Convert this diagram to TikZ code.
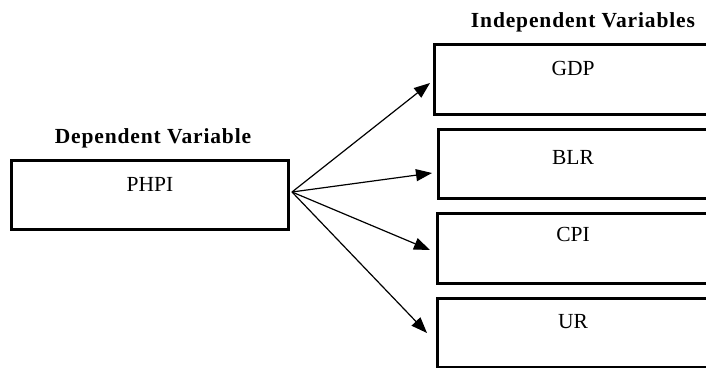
\documentclass[tikz,border=0pt]{standalone}
\usepackage{fontspec}
\setmainfont{Liberation Serif}
\newfontfamily\headfont{Liberation Serif}[LetterSpace=4]
\usetikzlibrary{arrows.meta}
\begin{document}
\begin{tikzpicture}[x=1pt,y=-1pt,
  box/.style={draw=black, line width=2.6pt, fill=white, rectangle, inner sep=0pt, anchor=north west},
  lbl/.style={inner sep=0pt, font=\fontsize{21.5}{24}\selectfont},
  head/.style={inner sep=0pt, font=\headfont\bfseries\fontsize{21.5}{25}\selectfont},
  arr/.style={line width=1.2pt, -{Triangle[length=16pt,width=12pt]}}
]
\useasboundingbox (0,0) rectangle (706,367);
\clip (0,0) rectangle (706,367);
\fill[white] (0,0) rectangle (706,367);

% headings
\node[head] (dephead) at (153,138) {Dependent Variable};
\node[head] (indhead) at (583,22) {Independent Variables};

% boxes
\node[box, minimum width=277pt, minimum height=69pt] (phpibox) at (10,159) {};
\node[box, minimum width=290pt, minimum height=70pt] (gdpbox) at (433,43) {};
\node[box, minimum width=290pt, minimum height=69pt] (blrbox) at (437,128) {};
\node[box, minimum width=290pt, minimum height=70pt] (cpibox) at (436,212) {};
\node[box, minimum width=290pt, minimum height=69pt] (urbox) at (436,297) {};

% labels
\node[lbl] (phpi) at (150,184) {PHPI};
\node[lbl] (gdp) at (573,68) {GDP};
\node[lbl] (blr) at (573,157) {BLR};
\node[lbl] (cpi) at (573,234) {CPI};
\node[lbl] (ur) at (573,322) {UR};

% connectors
\coordinate (src) at (292,192);
\coordinate (tgdp) at (430,83);
\coordinate (tblr) at (432,173);
\coordinate (tcpi) at (430,250);
\coordinate (tur) at (427,333);
\draw[arr] (src) -- (tgdp);
\draw[arr] (src) -- (tblr);
\draw[arr] (src) -- (tcpi);
\draw[arr] (src) -- (tur);
\end{tikzpicture}
\end{document}
